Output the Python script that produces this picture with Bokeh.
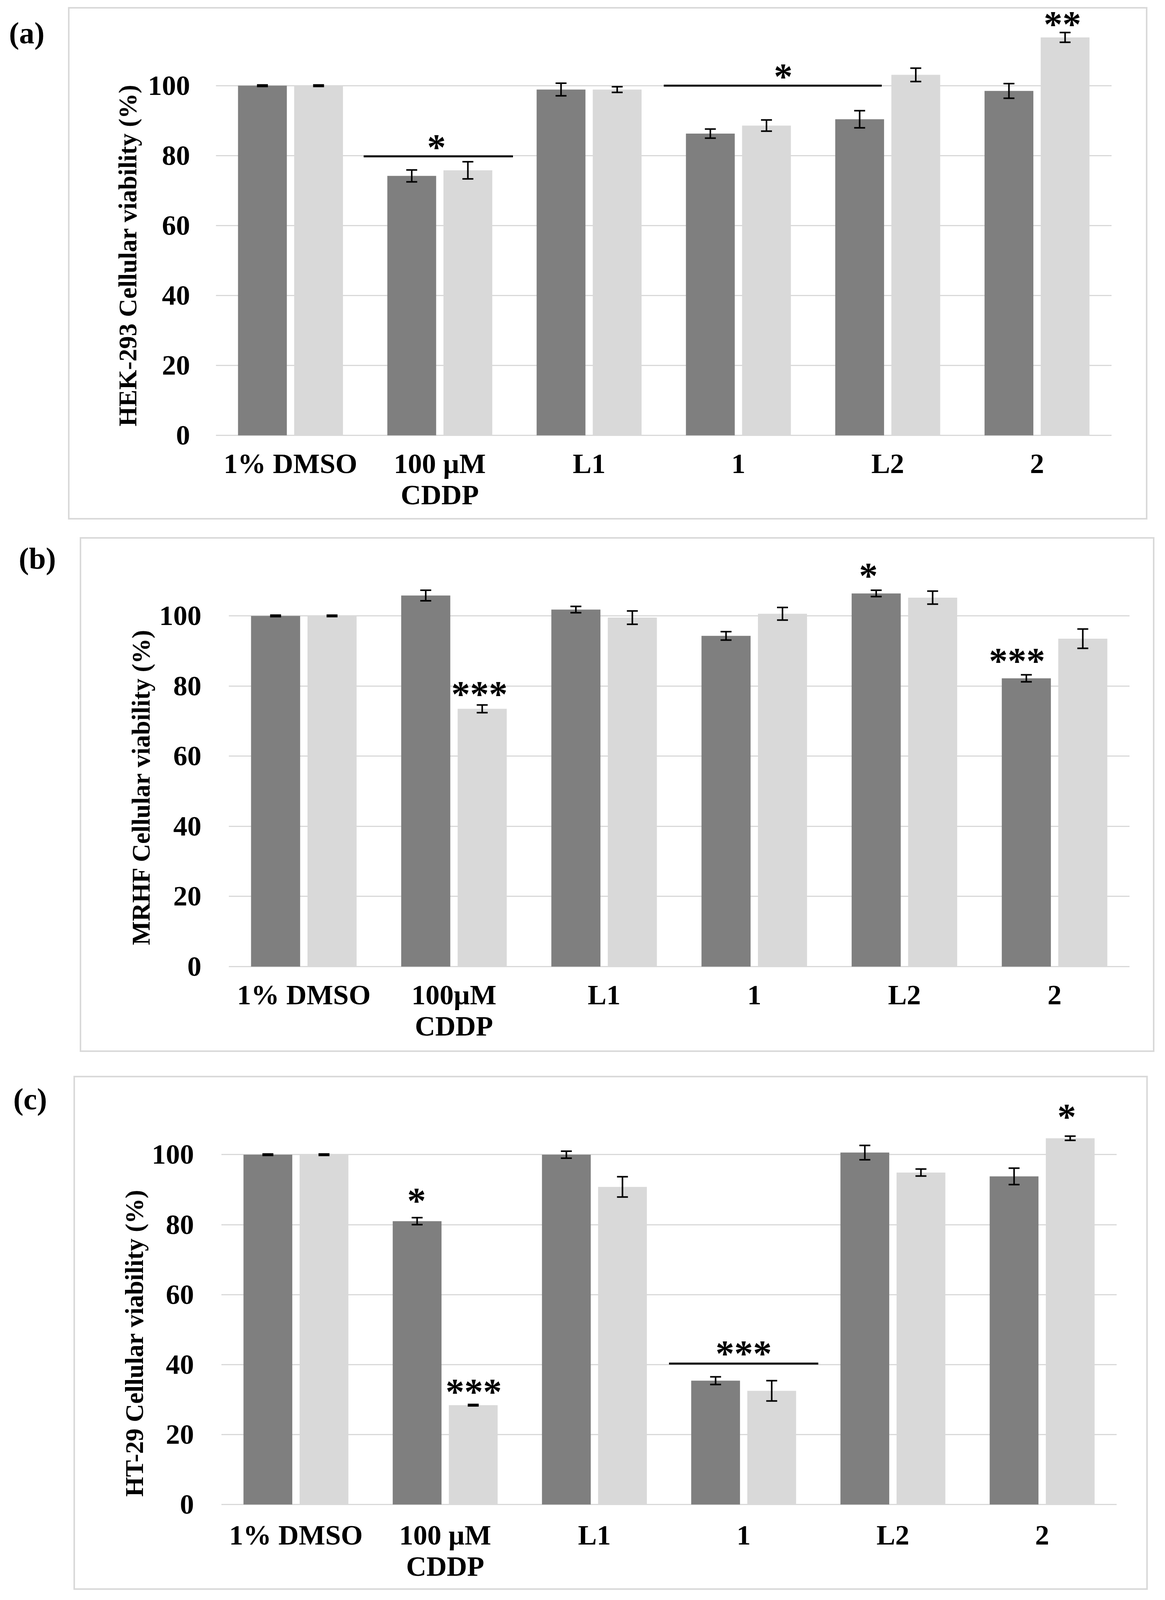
from bokeh.plotting import figure
from bokeh.models import (ColumnDataSource, FactorRange, Range1d, FixedTicker,
                          Whisker, TeeHead, Title, Div)
from bokeh.transform import dodge
from bokeh.layouts import column, row
from bokeh.core.properties import value
from bokeh.embed import file_html
from bokeh.resources import INLINE

# ---------------- data ----------------
cats_a = ["1% DMSO", "100 µM\nCDDP", "L1", "1", "L2", "2"]
cats_b = ["1% DMSO", "100µM\nCDDP", "L1", "1", "L2", "2"]
cats_c = ["1% DMSO", "100 µM\nCDDP", "L1", "1", "L2", "2"]
y_ticks = [0, 20, 40, 60, 80, 100]

hek_dark = [100, 74.2, 98.9, 86.3, 90.4, 98.5]
hek_dark_err = [0.2, 1.7, 1.8, 1.3, 2.45, 2.1]
hek_light = [100, 75.8, 98.9, 88.6, 103.1, 113.8]
hek_light_err = [0.2, 2.45, 0.8, 1.6, 1.9, 1.4]

mrhf_dark = [100, 105.8, 101.8, 94.3, 106.4, 82.2]
mrhf_dark_err = [0.2, 1.5, 0.9, 1.2, 0.9, 1.0]
mrhf_light = [100, 73.5, 99.5, 100.6, 105.2, 93.5]
mrhf_light_err = [0.2, 1.1, 1.9, 1.8, 1.85, 2.75]

ht_dark = [100, 81.0, 100.0, 35.4, 100.6, 93.8]
ht_dark_err = [0.2, 1.0, 1.0, 1.1, 2.05, 2.35]
ht_light = [100, 28.4, 90.8, 32.5, 94.9, 104.7]
ht_light_err = [0.2, 0.2, 2.9, 2.9, 1.0, 0.6]

# significance marks: (text, x, centre y) and bars (x0, x1, y)
hek_stars = [("*", 1.478, 84.7), ("*", 3.80, 104.9), ("**", 5.670, 119.9)]
hek_lines = [(0.99, 1.99, 79.8), (3.0, 4.46, 100.0)]
mrhf_stars = [("***", 1.670, 80.0), ("*", 4.26, 113.7), ("***", 5.250, 89.5)]
mrhf_lines = []
ht_stars = [("*", 1.308, 89.1), ("***", 1.691, 34.5), ("***", 3.50, 45.5), ("*", 5.665, 113.1)]
ht_lines = [(3.0, 4.0, 40.3)]

# ---------------- style ----------------
DARK = "#7f7f7f"
LIGHT = "#d9d9d9"
GRID = "#d9d9d9"
FONT = "Liberation Serif"
BAR_W = 0.327
OFF = 0.188
STAR_PX = 96
STAR_RISE = 0.21   # asterisk centre above the baseline, in em
TICK_PX = "72px"
TAG_PX = 78


def tag_div(tag, left, top, width):
    css = {"font-family": FONT, "font-weight": "bold",
           "font-size": f"{TAG_PX}px", "line-height": f"{TAG_PX}px",
           "color": "#000000"}
    span = (f'<span style="font-family:\'{FONT}\';font-weight:bold;'
            f'font-size:{TAG_PX}px;line-height:{TAG_PX}px;color:#000">{tag}</span>')
    return Div(text=span, width=width, height=100, margin=(top, 0, 0, left),
               styles=css)


def box_css(pad):
    g = f"linear-gradient({GRID},{GRID})"
    return {
        "background-color": "white",
        "background-image": ", ".join([g] * 4),
        "background-size": f"100% 4px, 4px calc(100% - {pad}px), "
                           f"4px calc(100% - {pad}px), 100% 4px",
        "background-position": f"0 {pad}px, 0 {pad}px, 100% {pad}px, 0 100%",
        "background-repeat": "no-repeat",
    }


def make_panel(cats, dark, dark_err, light, light_err, stars, lines, ylabel,
               width, height, y_end, mb_bottom, mb_left, mb_right,
               tick_standoff, cat_standoff, title_offset, title_standoff,
               top_margin, pad):
    p = figure(width=width, height=height, x_range=FactorRange(*cats),
               y_range=Range1d(-1, y_end), toolbar_location=None,
               output_backend="svg", min_border_top=0,
               min_border_bottom=mb_bottom, min_border_left=mb_left,
               min_border_right=mb_right, margin=(top_margin, 0, 0, 0))
    p.outline_line_color = None
    p.background_fill_color = None
    p.border_fill_color = None
    p.styles = box_css(pad)

    src = ColumnDataSource(dict(
        cat=cats, dark=dark, light=light,
        dlo=[v - e for v, e in zip(dark, dark_err)],
        dhi=[v + e for v, e in zip(dark, dark_err)],
        llo=[v - e for v, e in zip(light, light_err)],
        lhi=[v + e for v, e in zip(light, light_err)],
    ))
    p.vbar(x=dodge("cat", -OFF, range=p.x_range), top="dark", bottom=0,
           width=BAR_W, source=src, fill_color=DARK, line_color=None)
    p.vbar(x=dodge("cat", OFF, range=p.x_range), top="light", bottom=0,
           width=BAR_W, source=src, fill_color=LIGHT, line_color=None)

    for key, lo, hi in ((-OFF, "dlo", "dhi"), (OFF, "llo", "lhi")):
        w = Whisker(source=src, base=dodge("cat", key, range=p.x_range),
                    lower=lo, upper=hi, line_color="black", line_width=4,
                    level="overlay",
                    upper_head=TeeHead(size=28, line_width=4, line_color="black"),
                    lower_head=TeeHead(size=28, line_width=4, line_color="black"))
        p.add_layout(w)

    if lines:
        p.segment(x0=[l[0] for l in lines], x1=[l[1] for l in lines],
                  y0=[l[2] for l in lines], y1=[l[2] for l in lines],
                  line_color="black", line_width=5)
    ppu = (height - mb_bottom) / (y_end + 1.0)
    off = STAR_RISE * STAR_PX / ppu
    p.text(x=[s[1] for s in stars], y=[s[2] - off for s in stars],
           text=[s[0] for s in stars], text_font=value(FONT),
           text_font_style="bold", text_font_size=f"{STAR_PX}px",
           text_align="center", text_baseline="alphabetic", text_color="black")

    p.xgrid.grid_line_color = None
    p.ygrid.grid_line_color = GRID
    p.ygrid.grid_line_width = 3
    p.yaxis.ticker = FixedTicker(ticks=y_ticks)
    for ax in (p.xaxis[0], p.yaxis[0]):
        ax.axis_line_color = None
        ax.major_tick_line_color = None
        ax.minor_tick_line_color = None
        ax.major_tick_out = 0
        ax.major_tick_in = 0
        ax.major_label_text_font = FONT
        ax.major_label_text_font_style = "bold"
        ax.major_label_text_font_size = TICK_PX
        ax.major_label_text_color = "black"
    if hasattr(p.xaxis[0], "major_label_text_line_height"):
        p.xaxis[0].major_label_text_line_height = 1.0
    p.yaxis.major_label_standoff = tick_standoff
    p.xaxis.major_label_standoff = cat_standoff

    p.add_layout(Title(text=ylabel, align="left", offset=title_offset,
                       standoff=title_standoff, text_font=FONT,
                       text_font_style="bold", text_font_size="65px",
                       text_color="black"), "left")
    return p


pa = make_panel(cats_a, hek_dark, hek_dark_err, hek_light, hek_light_err,
                hek_stars, hek_lines, "HEK-293 Cellular  viability (%)",
                width=2763, height=1330, y_end=124.45, mb_bottom=207,
                mb_left=378, mb_right=92, tick_standoff=66, cat_standoff=23,
                title_offset=32, title_standoff=25, top_margin=0, pad=18)
pb = make_panel(cats_b, mrhf_dark, mrhf_dark_err, mrhf_light, mrhf_light_err,
                mrhf_stars, mrhf_lines, "MRHF Cellular  viability (%)",
                width=2751, height=1318, y_end=122.4, mb_bottom=210,
                mb_left=381, mb_right=64, tick_standoff=70, cat_standoff=23,
                title_offset=64, title_standoff=16, top_margin=45, pad=0)
pc = make_panel(cats_c, ht_dark, ht_dark_err, ht_light, ht_light_err,
                ht_stars, ht_lines, "HT-29 Cellular  viability (%)",
                width=2750, height=1316, y_end=122.5, mb_bottom=210,
                mb_left=378, mb_right=80, tick_standoff=70, cat_standoff=29,
                title_offset=29, title_standoff=12, top_margin=61, pad=0)

da = tag_div("(a)", 23, 46, 151)
db = tag_div("(b)", 48, 61, 156)
dc = tag_div("(c)", 34, 82, 154)

layout = column(row(da, pa, spacing=0), row(db, pb, spacing=0),
                row(dc, pc, spacing=0), spacing=0)
open("out.html", "w").write(file_html(layout, INLINE))
